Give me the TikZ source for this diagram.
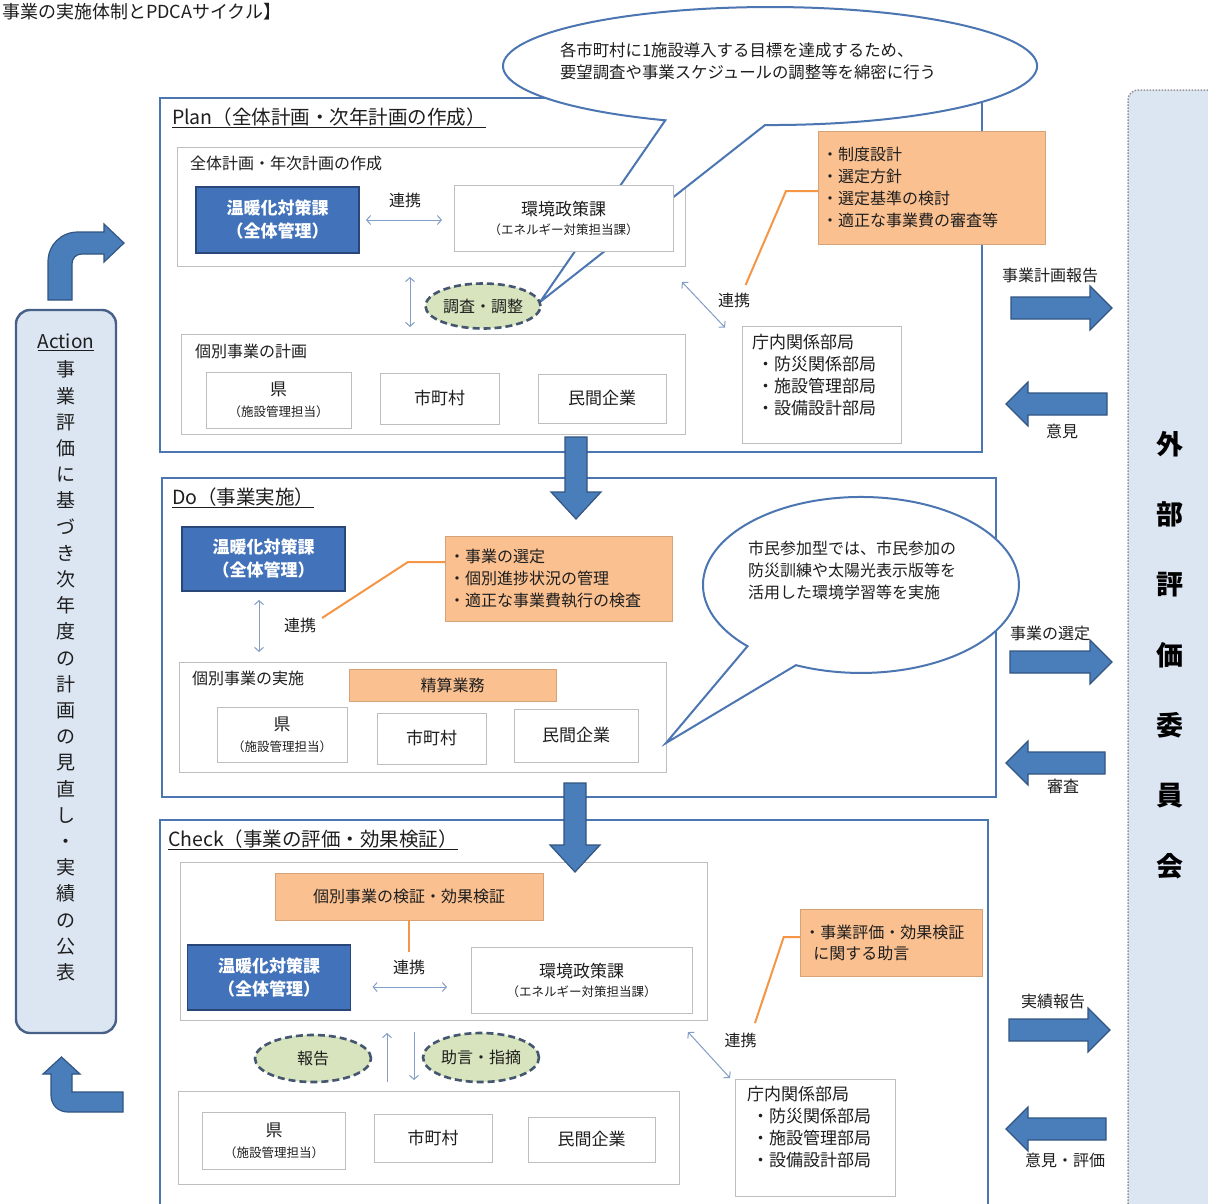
\documentclass[tikz,border=0pt]{standalone}
\usepackage{fontspec}
\setmainfont{Noto Sans CJK JP}
\usetikzlibrary{shapes.geometric,arrows.meta,calc}
\definecolor{secblue}{RGB}{75,118,178}
\definecolor{boxgray}{RGB}{190,190,190}
\definecolor{dkblue}{RGB}{66,114,186}
\definecolor{dkline}{RGB}{40,70,120}
\definecolor{orfill}{RGB}{250,192,144}
\definecolor{orline}{RGB}{245,150,70}
\definecolor{grfill}{RGB}{215,228,189}
\definecolor{dashcol}{RGB}{68,86,112}
\definecolor{arrblue}{RGB}{130,158,198}
\definecolor{blkfill}{RGB}{74,126,187}
\definecolor{blkline}{RGB}{50,85,130}
\definecolor{actfill}{RGB}{220,230,242}
\definecolor{actline}{RGB}{70,96,135}
\definecolor{commfill}{RGB}{220,230,242}
\definecolor{commline}{RGB}{150,150,150}
\definecolor{txt}{RGB}{30,30,30}
\newcommand{\fsz}[2]{\fontsize{#1pt}{#2pt}\selectfont}
\newcommand{\blkR}[3]{\draw[blk] (#1,#3-11) -- (#2-22,#3-11) -- (#2-22,#3-22) -- (#2,#3) -- (#2-22,#3+22) -- (#2-22,#3+11) -- (#1,#3+11) -- cycle;}
\newcommand{\blkL}[3]{\draw[blk] (#1,#3-11) -- (#2+22,#3-11) -- (#2+22,#3-22) -- (#2,#3) -- (#2+22,#3+22) -- (#2+22,#3+11) -- (#1,#3+11) -- cycle;}
\begin{document}
\begin{tikzpicture}[x=1pt,y=-1pt,
 every node/.style={inner sep=0pt, outer sep=0pt},
 secbox/.style={rectangle, draw=secblue, line width=2.6pt, fill=white},
 inbox/.style={rectangle, draw=boxgray, line width=0.9pt, fill=white},
 whbox/.style={rectangle, draw=boxgray, line width=0.9pt, fill=white, align=center, font=\fsz{17}{21}, text=txt},
 darkbox/.style={rectangle, draw=dkline, line width=1.6pt, fill=dkblue, text=white, align=center, font=\fsz{17}{23}\bfseries},
 orbox/.style={rectangle, fill=orfill, draw=orfill!85!black, line width=0.4pt, text=txt},
 dashell/.style={ellipse, fill=grfill, draw=dashcol, line width=2.6pt, dash pattern=on 7pt off 4pt, font=\fsz{16}{19}, text=txt},
 lbl/.style={font=\fsz{16}{19}, text=txt},
 dbl/.style={draw=arrblue, line width=1pt, >={Straight Barb[length=4pt,width=9pt]}, <->},
 sgl/.style={draw=arrblue, line width=1pt, >={Straight Barb[length=4pt,width=9pt]}, ->},
 orl/.style={draw=orline, line width=2pt},
 callout/.style={fill=white, draw=secblue, line width=2pt},
 blk/.style={fill=blkfill, draw=blkline, line width=1.2pt},
 title/.style={font=\fsz{19.5}{23}, anchor=west, text=txt},
]
\useasboundingbox (0,0) rectangle (1208,1203);
\clip (0,0) rectangle (1208,1203);
\fill[white] (0,0) rectangle (1208,1203);

% top title
\node[anchor=west, font=\fsz{18}{22}, text=txt] (toptitle) at (2,11.5) {事業の実施体制とPDCAサイクル】};

% committee
\node[rectangle, rounded corners=10pt, draw=commline, line width=1.5pt, dash pattern=on 1.5pt off 1.5pt, fill=commfill, minimum width=96pt, minimum height=1130pt] (committee) at (1176,655) {};
\node[font=\fsz{27}{70.3}\bfseries, align=center, text=black] (committeetext) at (1170,655) {外\\部\\評\\価\\委\\員\\会};

% section boxes
\node[secbox, minimum width=822pt, minimum height=354pt] (planbox) at (571,275) {};
\node[secbox, minimum width=834pt, minimum height=319pt] (dobox) at (579,637.5) {};
\node[secbox, minimum width=828pt, minimum height=400pt] (chbox) at (574,1020) {};

% ---------- Plan ----------
\node[title] (plantitle) at (172,118) {\underline{Plan（全体計画・次年計画の作成）}};
\node[inbox, minimum width=508pt, minimum height=119pt] (pin1) at (431,206.5) {};
\node[lbl, anchor=west] (pin1lbl) at (190,163) {全体計画・年次計画の作成};

\filldraw[callout] (665.3,120.3) arc[start angle=113.1, end angle=451.07, x radius=267, y radius=59] -- (540,302) -- cycle;
\node[anchor=west, align=left, font=\fsz{16.4}{22}, text=txt] (callout1text) at (560,61) {各市町村に1施設導入する目標を達成するため、\\要望調査や事業スケジュールの調整等を綿密に行う};

\node[darkbox, minimum width=163pt, minimum height=66pt] (pondan) at (277.5,220) {温暖化対策課\\（全体管理）};
\node[whbox, minimum width=219pt, minimum height=66pt] (pkankyo) at (563.5,218) {環境政策課\\[-2pt]{\fsz{12.5}{16}（エネルギー対策担当課）}};
\draw[dbl, shorten <=7pt, shorten >=12pt] (pondan.east) -- (pondan.east -| pkankyo.west);
\node[lbl] (plk1) at (405,200) {連携};

\node[orbox, minimum width=227pt, minimum height=113pt, text width=219pt, align=left, font=\fsz{16}{22}] (porange) at (931.5,187.5) {・制度設計\\・選定方針\\・選定基準の検討\\・適正な事業費の審査等};
\node[lbl] (plk2) at (734,300) {連携};
\draw[orl] ($(porange.west)+(0,3.5)$) -- ++(-32,0) -- ($(plk2.center)+(11.6,-15)$);

\node[whbox, minimum width=159pt, minimum height=117pt] (pchonai) at (821.5,385) {};
\node[anchor=north west, align=left, font=\fsz{17}{22}, text=txt] (pchonait) at (752,334.5) {庁内関係部局\\\hspace{5pt}・防災関係部局\\\hspace{5pt}・施設管理部局\\\hspace{5pt}・設備設計部局};
\draw[dbl] ($(pin1.south east)+(-3,16)$) -- ($(pchonai.north west)+(-17,1)$);

\node[inbox, minimum width=504pt, minimum height=100pt] (pin2) at (433,384) {};
\node[lbl, anchor=west] (pin2lbl) at (195,351) {個別事業の計画};
\node[whbox, minimum width=145pt, minimum height=56pt] (pken) at (278.5,400) {県\\{\fsz{12.5}{16}（施設管理担当）}};
\node[whbox, minimum width=119pt, minimum height=51pt] (pshi) at (439.5,398.5) {市町村};
\node[whbox, minimum width=128pt, minimum height=49pt] (pmin) at (602,398.5) {民間企業};

\node[dashell, minimum width=115pt, minimum height=45pt] (pchosa) at (483,306) {調査・調整};
\coordinate (pvx) at (410,0);
\draw[dbl, shorten <=11pt, shorten >=7pt] (pvx |- pin1.south) -- (pvx |- pin2.north);

% ---------- Do ----------
\node[title] (dotitle) at (172,498) {\underline{Do（事業実施）}};
\node[darkbox, minimum width=163pt, minimum height=64pt] (dondan) at (263.5,559) {温暖化対策課\\（全体管理）};
\node[orbox, minimum width=227pt, minimum height=85pt, text width=219pt, align=left, font=\fsz{16}{22}] (dorange) at (558.5,578.5) {・事業の選定\\・個別進捗状況の管理\\・適正な事業費執行の検査};
\node[lbl] (dlk) at (300,625) {連携};
\draw[orl] ($(dorange.west)+(0,-16.5)$) -- ++(-37,0) -- ($(dlk.center)+(22,-7)$);

\node[inbox, minimum width=487pt, minimum height=110pt] (din) at (422.5,717) {};
\node[lbl, anchor=west] (dinlbl) at (192,678) {個別事業の実施};
\node[orbox, minimum width=207pt, minimum height=32pt, font=\fsz{16}{19}] (dseisan) at (452.5,685) {精算業務};
\node[whbox, minimum width=130pt, minimum height=55pt] (dken) at (282,734.5) {県\\{\fsz{12.5}{16}（施設管理担当）}};
\node[whbox, minimum width=109pt, minimum height=51pt] (dshi) at (431.5,738.5) {市町村};
\node[whbox, minimum width=124pt, minimum height=53pt] (dmin) at (576,735.5) {民間企業};
\coordinate (dvx) at (259,0);
\draw[dbl, shorten <=9pt, shorten >=10pt] (dvx |- dondan.south) -- (dvx |- din.north);

\filldraw[callout] (747.5,646.2) arc[start angle=135.9, end angle=474.3, x radius=158, y radius=88] -- (666,743) -- cycle;
\node[anchor=west, align=left, font=\fsz{16}{22}, text=txt] (callout2text) at (748,570) {市民参加型では、市民参加の\\防災訓練や太陽光表示版等を\\活用した環境学習等を実施};

% ---------- Check ----------
\node[title] (chtitle) at (168,840) {\underline{Check（事業の評価・効果検証）}};
\node[inbox, minimum width=527pt, minimum height=158pt] (cin1) at (443.5,941) {};
\node[orbox, minimum width=268pt, minimum height=47pt, font=\fsz{16}{19}] (ckensho) at (409,896.5) {個別事業の検証・効果検証};
\node[darkbox, minimum width=163pt, minimum height=65pt] (condan) at (269,977.5) {温暖化対策課\\（全体管理）};
\node[whbox, minimum width=221pt, minimum height=66pt] (ckankyo) at (581.5,980) {環境政策課\\[-2pt]{\fsz{12.5}{16}（エネルギー対策担当課）}};
\node[lbl] (clk1) at (409,967) {連携};
\draw[orl, shorten >=8pt] (ckensho.south) -- (clk1.north);
\draw[dbl, shorten <=22pt, shorten >=24pt] ($(condan.east)+(0,9.5)$) -- ($(condan.east -| ckankyo.west)+(0,9.5)$);

\node[dashell, minimum width=116pt, minimum height=47pt] (chokoku) at (313,1058.5) {報告};
\node[dashell, minimum width=116pt, minimum height=49pt] (cjogen) at (481,1057.5) {助言・指摘};
\node[inbox, minimum width=501pt, minimum height=93pt] (cin2) at (428.5,1137.5) {};
\coordinate (cux) at (387,0);
\coordinate (cdx) at (414,0);
\draw[sgl, shorten <=9pt, shorten >=13pt] (cux |- cin2.north) -- (cux |- cin1.south);
\draw[sgl, shorten <=12pt, shorten >=11pt] (cdx |- cin1.south) -- (cdx |- cin2.north);
\node[whbox, minimum width=143pt, minimum height=57pt] (cken) at (274,1140.5) {県\\{\fsz{12.5}{16}（施設管理担当）}};
\node[whbox, minimum width=118pt, minimum height=48pt] (cshi) at (433,1138) {市町村};
\node[whbox, minimum width=127pt, minimum height=45pt] (cmin) at (591.5,1139.5) {民間企業};

\node[orbox, minimum width=181.5pt, minimum height=67pt, text width=173.5pt, align=left, font=\fsz{16}{21}] (corange) at (891,942.5) {・事業評価・効果検証\\\hspace{9pt}に関する助言};
\node[lbl] (clk2) at (740.6,1040) {連携};
\draw[orl] ($(corange.west)+(0,-5.5)$) -- ++(-16.5,0) -- ($(clk2.center)+(14.4,-17)$);
\node[whbox, minimum width=160pt, minimum height=117pt] (cchonai) at (815.5,1137.5) {};
\node[anchor=north west, align=left, font=\fsz{17}{22}, text=txt] (cchonait) at (747,1086.5) {庁内関係部局\\\hspace{5pt}・防災関係部局\\\hspace{5pt}・施設管理部局\\\hspace{5pt}・設備設計部局};
\draw[dbl] ($(cin1.south east)+(-19,12)$) -- ($(cchonai.north west)+(-5.5,-1)$);

% ---------- big down arrows ----------
\draw[blk] (565,437) -- (587,437) -- (587,492) -- (601,492) -- (576,519) -- (551,492) -- (565,492) -- cycle;
\draw[blk] (564,783) -- (586,783) -- (586,845) -- (600,845) -- (575,872) -- (550,845) -- (564,845) -- cycle;

% ---------- right arrows ----------
\blkR{1011}{1112}{308}
\blkL{1107}{1006}{404}
\blkR{1010}{1112}{662}
\blkL{1105}{1006}{763}
\blkR{1009}{1110}{1030}
\blkL{1106}{1006}{1129}
\node[lbl] (lr1) at (1050,275) {事業計画報告};
\node[lbl] (lr2) at (1062,431) {意見};
\node[lbl] (lr3) at (1050,633) {事業の選定};
\node[lbl] (lr4) at (1063,786) {審査};
\node[lbl] (lr5) at (1053,1001) {実績報告};
\node[lbl] (lr6) at (1065,1160) {意見・評価};

% ---------- Action ----------
\node[rectangle, rounded corners=14pt, draw=actline, line width=2.4pt, fill=actfill, minimum width=100pt, minimum height=723pt] (action) at (66,671.5) {};
\node[font=\fsz{19}{22}, text=txt] (actiontitle) at (66,342) {\underline{Action}};
\node[font=\fsz{19}{26.2}, align=center, text=txt] (actiontext) at (66,671) {事\\業\\評\\価\\に\\基\\づ\\き\\次\\年\\度\\の\\計\\画\\の\\見\\直\\し\\・\\実\\績\\の\\公\\表};

\draw[blk] (48,300) -- (48,262) .. controls (48,245) and (61,232) .. (78,232) -- (104,232) -- (104,224) -- (124,243) -- (104,262) -- (104,254) -- (82,254) .. controls (76,254) and (72,258) .. (72,264) -- (72,300) -- cycle;
\draw[blk] (123,1092) -- (72,1092) -- (72,1074) -- (80,1074) -- (61.5,1057) -- (43,1074) -- (51,1074) -- (51,1095) .. controls (51,1105) and (58,1112) .. (68,1112) -- (123,1112) -- cycle;
\end{tikzpicture}
\end{document}
